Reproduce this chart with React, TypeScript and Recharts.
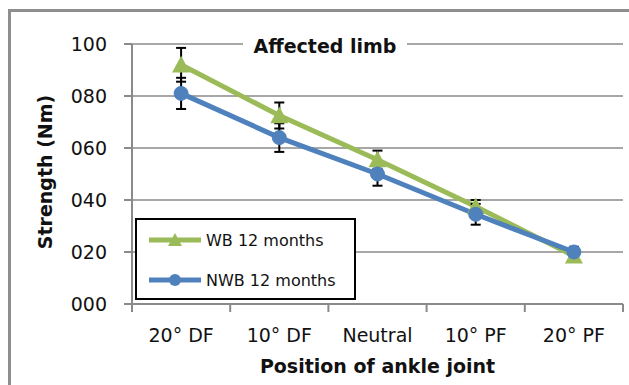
import { LineChart, Line, XAxis, YAxis, CartesianGrid, ErrorBar, Legend } from "recharts";

const POSITIONS = ["20° DF", "10° DF", "Neutral", "10° PF", "20° PF"];
const WB_12M = [92, 72.5, 55.5, 37.5, 18.5];
const WB_12M_SD = [6.5, 5, 3.5, 2.5, 2];
const NWB_12M = [81, 64, 50, 34.5, 20];
const NWB_12M_SD = [6, 5.5, 4.5, 4, 2];
const Y_TICKS = [0, 20, 40, 60, 80, 100];

const GREEN = "#9bbb59";
const BLUE = "#4f81bd";
const AXIS = "#8a8a8a";
const FONT = "'DejaVu Sans', sans-serif";

// each position sits in the middle of a unit slot; tick marks go on the slot edges
const X_TICKS = POSITIONS.flatMap((_, i) => [i, i + 0.5]).concat(POSITIONS.length);

const data = POSITIONS.map((label, i) => ({
    slot: i + 0.5,
    label,
    wb: WB_12M[i],
    wbSd: WB_12M_SD[i],
    nwb: NWB_12M[i],
    nwbSd: NWB_12M_SD[i],
}));

const SERIES = [
    { key: "wb", name: "WB 12 months", color: GREEN, marker: "triangle" },
    { key: "nwb", name: "NWB 12 months", color: BLUE, marker: "circle" },
];

function triangle(cx: number, cy: number, half: number) {
    return `M${cx},${cy - half} L${cx + half},${cy + half * 0.85} L${cx - half},${cy + half * 0.85} Z`;
}

function TriangleDot(props: any) {
    const { cx, cy } = props;
    if (cx == null || cy == null) return null;
    return <path d={triangle(cx, cy, 9)} fill={GREEN} />;
}

function SlotTick({ x, y, payload }: any) {
    const v = payload.value as number;
    if (Number.isInteger(v)) {
        return <line x1={x} y1={y - 25} x2={x} y2={y - 17} stroke={AXIS} strokeWidth={2} />;
    }
    return (
        <text x={x} y={y} dy="0.71em" textAnchor="middle" fill="#111" fontSize={19} fontFamily={FONT}>
            {POSITIONS[Math.floor(v)]}
        </text>
    );
}

function XTitle({ viewBox }: any) {
    return (
        <text
            x={viewBox.x + viewBox.width / 2}
            y={373}
            textAnchor="middle"
            fontSize={19}
            fontWeight="bold"
            fontFamily={FONT}
            fill="#111"
        >
            Position of ankle joint
        </text>
    );
}

function YTitle() {
    return (
        <text
            x={52}
            y={172}
            transform="rotate(-90, 52, 172)"
            textAnchor="middle"
            fontSize={19}
            fontWeight="bold"
            fontFamily={FONT}
            fill="#111"
        >
            Strength (Nm)
        </text>
    );
}

function LegendBox() {
    return (
        <div
            style={{
                position: "relative",
                width: 221,
                height: 82,
                boxSizing: "border-box",
                border: "2px solid #000",
                background: "#fff",
                fontFamily: FONT,
                fontSize: 16,
                color: "#111",
            }}
        >
            {SERIES.map((s, i) => (
                <div key={s.key} style={{ position: "absolute", left: 10, top: 8 + i * 40, height: 24, display: "flex", alignItems: "center" }}>
                    <svg width={56} height={24}>
                        <line x1={2} y1={12} x2={54} y2={12} stroke={s.color} strokeWidth={5} />
                        {s.marker === "triangle" ? (
                            <path d={triangle(28, 12, 7)} fill={s.color} />
                        ) : (
                            <circle cx={28} cy={12} r={6} fill={s.color} />
                        )}
                    </svg>
                    <span style={{ marginLeft: 3, whiteSpace: "nowrap" }}>{s.name}</span>
                </div>
            ))}
        </div>
    );
}

export default function App() {
    return (
        <div style={{ position: "absolute", left: 0, top: 0, width: 629, height: 385, background: "#fff", overflow: "hidden" }}>
            <div
                style={{
                    position: "absolute",
                    left: 8,
                    top: 9,
                    width: 700,
                    height: 500,
                    border: "3px solid #8e8e8e",
                }}
            />
            <div style={{ position: "absolute", left: 0, top: 0 }}>
                <LineChart width={629} height={385} data={data} margin={{ top: 44, right: 6, left: 0, bottom: 0 }}>
                    <CartesianGrid vertical={false} stroke={AXIS} strokeWidth={1.5} />
                    <XAxis
                        dataKey="slot"
                        type="number"
                        domain={[0, POSITIONS.length]}
                        ticks={X_TICKS}
                        interval={0}
                        height={81}
                        tickSize={8}
                        tickMargin={17}
                        tickLine={false}
                        axisLine={{ stroke: AXIS, strokeWidth: 2 }}
                        tick={<SlotTick />}
                        label={<XTitle />}
                    />
                    <YAxis
                        type="number"
                        domain={[0, 100]}
                        ticks={Y_TICKS}
                        width={132}
                        tickSize={8}
                        tickMargin={17}
                        tickFormatter={(v: number) => String(v).padStart(3, "0")}
                        tick={{ fill: "#111", fontSize: 19, fontFamily: FONT }}
                        tickLine={{ stroke: AXIS, strokeWidth: 2 }}
                        axisLine={{ stroke: AXIS, strokeWidth: 2 }}
                        label={<YTitle />}
                    />
                    {/* centred + middle keeps the legend from reserving space in the plot */}
                    <Legend
                        layout="horizontal"
                        align="center"
                        verticalAlign="middle"
                        wrapperStyle={{ left: 135, top: 218, width: 221, height: 82 }}
                        content={<LegendBox />}
                    />
                    <Line
                        dataKey="wb"
                        name="WB 12 months"
                        stroke={GREEN}
                        strokeWidth={5}
                        dot={(p: any) => <TriangleDot key={`wb-${p.index}`} {...p} />}
                        activeDot={false}
                        isAnimationActive={false}
                    >
                        <ErrorBar dataKey="wbSd" direction="y" width={5} stroke="#000" strokeWidth={2} isAnimationActive={false} />
                    </Line>
                    <Line
                        dataKey="nwb"
                        name="NWB 12 months"
                        stroke={BLUE}
                        strokeWidth={5}
                        dot={{ r: 7, fill: BLUE, stroke: BLUE, strokeWidth: 1 }}
                        activeDot={false}
                        isAnimationActive={false}
                    >
                        <ErrorBar dataKey="nwbSd" direction="y" width={5} stroke="#000" strokeWidth={2} isAnimationActive={false} />
                    </Line>
                </LineChart>
            </div>
            <div
                style={{
                    position: "absolute",
                    left: 243,
                    top: 35,
                    width: 164,
                    height: 23,
                    lineHeight: "23px",
                    background: "#fff",
                    textAlign: "center",
                    fontFamily: FONT,
                    fontWeight: "bold",
                    fontSize: 19,
                    color: "#111",
                }}
            >
                Affected limb
            </div>
        </div>
    );
}
